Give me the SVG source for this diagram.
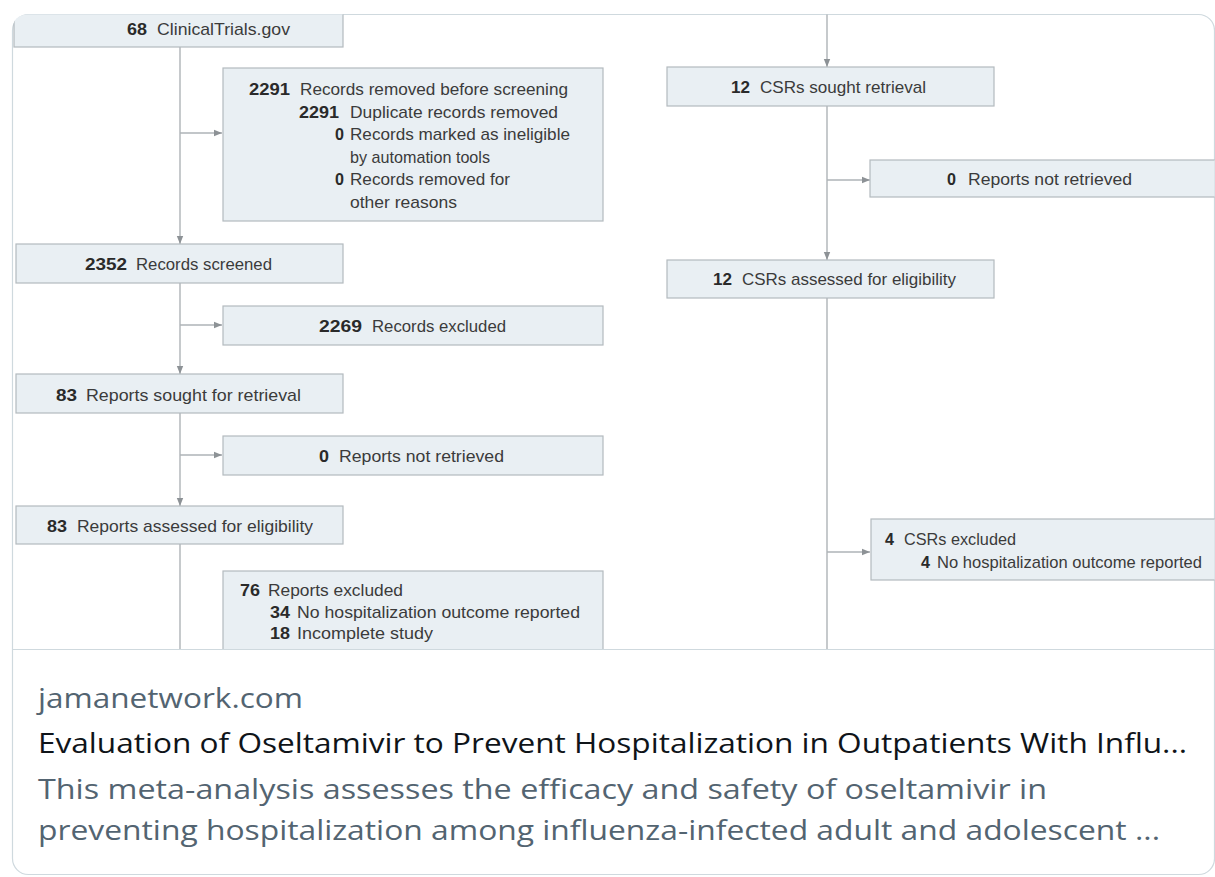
<svg xmlns="http://www.w3.org/2000/svg" width="1215" height="877" viewBox="0 0 1215 877">
<style>
.box{fill:#e9eff3;stroke:#b3babe;stroke-width:1.2}
.t{font-family:"Liberation Sans",Arial,sans-serif;font-size:17px;fill:#3b3b3b}
.n{font-family:"Liberation Sans",Arial,sans-serif;font-size:17px;font-weight:bold;fill:#2a2a2a}
.ln{stroke:#aeb3b7;stroke-width:1.4;fill:none}
.dom{font-family:"Open Sans","Noto Sans",sans-serif;font-size:27px;fill:#536471}
.ttl{font-family:"Open Sans","Noto Sans",sans-serif;font-size:27px;fill:#0f1419}
.dsc{font-family:"Open Sans","Noto Sans",sans-serif;font-size:27px;fill:#536471}
</style>
<defs>
<marker id="ah" viewBox="0 0 8 8" refX="8" refY="4" markerWidth="8" markerHeight="8" markerUnits="userSpaceOnUse" orient="auto">
<path d="M0,0.8 L8,4 L0,7.2 Z" fill="#8d9296"/>
</marker>
<clipPath id="cardTop">
<path d="M12.5,649.5 L12.5,30.5 Q12.5,14.5 28.5,14.5 L1198.5,14.5 Q1214.5,14.5 1214.5,30.5 L1214.5,649.5 Z"/>
</clipPath>
</defs>
<rect x="0" y="0" width="1215" height="877" fill="#ffffff"/>
<rect id="card" x="12.5" y="14.5" width="1202" height="860" rx="16" fill="#ffffff" stroke="#cfd9de" stroke-width="1.2"/>
<g clip-path="url(#cardTop)">
<g id="connectors">
<path class="ln" d="M180,47 L180,244" marker-end="url(#ah)"/>
<path class="ln" d="M180,133 L222,133" marker-end="url(#ah)"/>
<path class="ln" d="M180,283 L180,374" marker-end="url(#ah)"/>
<path class="ln" d="M180,325 L222,325" marker-end="url(#ah)"/>
<path class="ln" d="M180,413 L180,506" marker-end="url(#ah)"/>
<path class="ln" d="M180,455 L222,455" marker-end="url(#ah)"/>
<path class="ln" d="M180,544 L180,660"/>
<path class="ln" d="M827,0 L827,67" marker-end="url(#ah)"/>
<path class="ln" d="M827,106 L827,260" marker-end="url(#ah)"/>
<path class="ln" d="M827,180 L870,180" marker-end="url(#ah)"/>
<path class="ln" d="M827,298 L827,660"/>
<path class="ln" d="M827,552 L870,552" marker-end="url(#ah)"/>
</g>
<g id="n-clinicaltrials">
<rect class="box" x="14" y="-10" width="329" height="57"/>
<text class="n" x="127" y="35" textLength="20" lengthAdjust="spacingAndGlyphs">68</text>
<text class="t" x="157" y="35" textLength="133" lengthAdjust="spacingAndGlyphs">ClinicalTrials.gov</text>
</g>
<g id="n-removed">
<rect class="box" x="223" y="68" width="380" height="153"/>
<text class="n" x="249" y="95" textLength="41" lengthAdjust="spacingAndGlyphs">2291</text>
<text class="t" x="300" y="95" textLength="268" lengthAdjust="spacingAndGlyphs">Records removed before screening</text>
<text class="n" x="299" y="117.5" textLength="40" lengthAdjust="spacingAndGlyphs">2291</text>
<text class="t" x="350" y="117.5" textLength="208" lengthAdjust="spacingAndGlyphs">Duplicate records removed</text>
<text class="n" x="335" y="140" textLength="9" lengthAdjust="spacingAndGlyphs">0</text>
<text class="t" x="350" y="140" textLength="220" lengthAdjust="spacingAndGlyphs">Records marked as ineligible</text>
<text class="t" x="350" y="162.5" textLength="140" lengthAdjust="spacingAndGlyphs">by automation tools</text>
<text class="n" x="335" y="185" textLength="9" lengthAdjust="spacingAndGlyphs">0</text>
<text class="t" x="350" y="185" textLength="160" lengthAdjust="spacingAndGlyphs">Records removed for</text>
<text class="t" x="350" y="207.5" textLength="107" lengthAdjust="spacingAndGlyphs">other reasons</text>
</g>
<g id="n-screened">
<rect class="box" x="16" y="244" width="327" height="39"/>
<text class="n" x="85" y="270" textLength="42" lengthAdjust="spacingAndGlyphs">2352</text>
<text class="t" x="136" y="270" textLength="136" lengthAdjust="spacingAndGlyphs">Records screened</text>
</g>
<g id="n-excluded">
<rect class="box" x="223" y="306" width="380" height="39"/>
<text class="n" x="319" y="332" textLength="43" lengthAdjust="spacingAndGlyphs">2269</text>
<text class="t" x="372" y="332" textLength="134" lengthAdjust="spacingAndGlyphs">Records excluded</text>
</g>
<g id="n-sought">
<rect class="box" x="16" y="374" width="327" height="39"/>
<text class="n" x="56" y="401" textLength="21" lengthAdjust="spacingAndGlyphs">83</text>
<text class="t" x="86" y="401" textLength="215" lengthAdjust="spacingAndGlyphs">Reports sought for retrieval</text>
</g>
<g id="n-notretrieved">
<rect class="box" x="223" y="436" width="380" height="39"/>
<text class="n" x="319" y="462" textLength="10" lengthAdjust="spacingAndGlyphs">0</text>
<text class="t" x="339" y="462" textLength="165" lengthAdjust="spacingAndGlyphs">Reports not retrieved</text>
</g>
<g id="n-assessed">
<rect class="box" x="16" y="506" width="327" height="38"/>
<text class="n" x="47" y="532" textLength="20" lengthAdjust="spacingAndGlyphs">83</text>
<text class="t" x="77" y="532" textLength="236" lengthAdjust="spacingAndGlyphs">Reports assessed for eligibility</text>
</g>
<g id="n-reportsexcluded">
<rect class="box" x="223" y="571" width="380" height="120"/>
<text class="n" x="240" y="596" textLength="20" lengthAdjust="spacingAndGlyphs">76</text>
<text class="t" x="268" y="596" textLength="135" lengthAdjust="spacingAndGlyphs">Reports excluded</text>
<text class="n" x="270" y="618" textLength="20" lengthAdjust="spacingAndGlyphs">34</text>
<text class="t" x="297" y="618" textLength="283" lengthAdjust="spacingAndGlyphs">No hospitalization outcome reported</text>
<text class="n" x="270" y="639" textLength="20" lengthAdjust="spacingAndGlyphs">18</text>
<text class="t" x="297" y="639" textLength="136" lengthAdjust="spacingAndGlyphs">Incomplete study</text>
</g>
<g id="n-csrsought">
<rect class="box" x="667" y="67" width="327" height="39"/>
<text class="n" x="731" y="93" textLength="19" lengthAdjust="spacingAndGlyphs">12</text>
<text class="t" x="760" y="93" textLength="166" lengthAdjust="spacingAndGlyphs">CSRs sought retrieval</text>
</g>
<g id="n-csrnotretrieved">
<rect class="box" x="870" y="160" width="360" height="37"/>
<text class="n" x="947" y="185" textLength="9" lengthAdjust="spacingAndGlyphs">0</text>
<text class="t" x="968" y="185" textLength="164" lengthAdjust="spacingAndGlyphs">Reports not retrieved</text>
</g>
<g id="n-csrassessed">
<rect class="box" x="667" y="260" width="327" height="38"/>
<text class="n" x="713" y="285" textLength="19" lengthAdjust="spacingAndGlyphs">12</text>
<text class="t" x="742" y="285" textLength="214" lengthAdjust="spacingAndGlyphs">CSRs assessed for eligibility</text>
</g>
<g id="n-csrexcluded">
<rect class="box" x="871" y="519" width="360" height="61"/>
<text class="n" x="885" y="545" textLength="9" lengthAdjust="spacingAndGlyphs">4</text>
<text class="t" x="904" y="545" textLength="112" lengthAdjust="spacingAndGlyphs">CSRs excluded</text>
<text class="n" x="921" y="568" textLength="9" lengthAdjust="spacingAndGlyphs">4</text>
<text class="t" x="937" y="568" textLength="265" lengthAdjust="spacingAndGlyphs">No hospitalization outcome reported</text>
</g>
</g>
<line x1="12.5" y1="649.5" x2="1214.5" y2="649.5" stroke="#cfd9de" stroke-width="1.2"/>
<g id="card-text">
<text class="dom" x="38" y="708" textLength="265" lengthAdjust="spacingAndGlyphs">jamanetwork.com</text>
<text class="ttl" x="38" y="753" textLength="1149" lengthAdjust="spacingAndGlyphs">Evaluation of Oseltamivir to Prevent Hospitalization in Outpatients With Influ...</text>
<text class="dsc" x="38" y="799" textLength="1009" lengthAdjust="spacingAndGlyphs">This meta-analysis assesses the efficacy and safety of oseltamivir in</text>
<text class="dsc" x="38" y="840" textLength="1122" lengthAdjust="spacingAndGlyphs">preventing hospitalization among influenza-infected adult and adolescent ...</text>
</g>
</svg>
